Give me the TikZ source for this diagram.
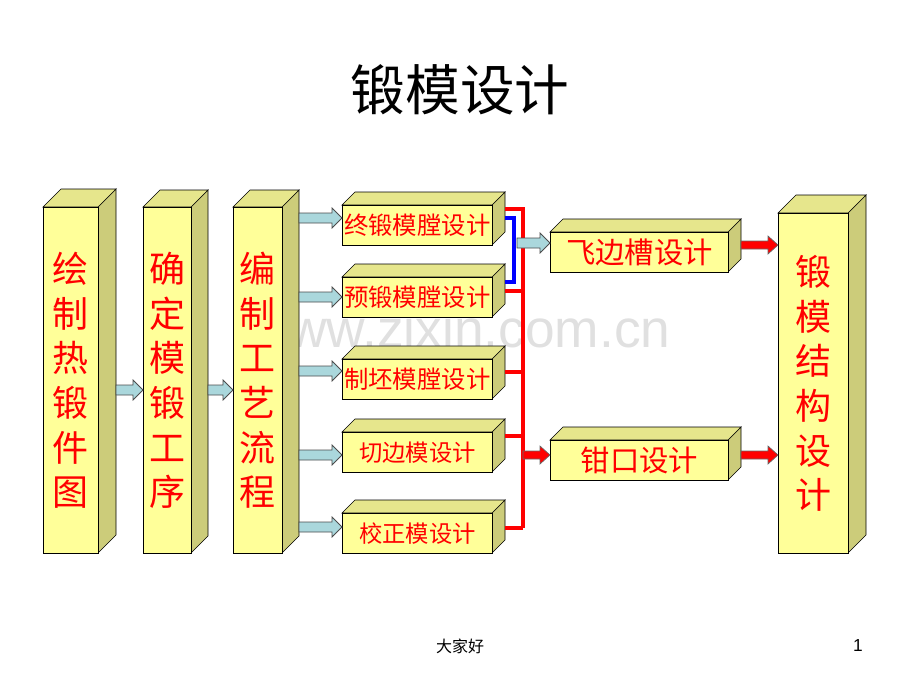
\documentclass[tikz,border=0pt]{standalone}
\usepackage{fontspec}
\setmainfont{Liberation Sans}
\newfontfamily\cjk{Noto Sans CJK SC}
\usetikzlibrary{arrows.meta,shapes.arrows}
\definecolor{fy}{RGB}{255,255,153}
\definecolor{sy}{RGB}{204,204,122}
\definecolor{ty}{RGB}{230,230,140}
\definecolor{ab}{RGB}{170,215,220}
\tikzset{
 txt/.style={text=red,font=\cjk},
 hol/.style={draw=black!70,fill=ab,line width=0.6pt},
 rl/.style={red,line width=2.4pt},
 ra/.style={draw=black!60,fill=red,line width=0.5pt},
}
% x1 y1 x2 y2 depth name
\newcommand\cube[6]{%
 \fill[sy,draw=black,line width=0.5pt] (#3,#2)--(#3+#5,#2-#5)--(#3+#5,#4-#5)--(#3,#4)--cycle;
 \fill[ty,draw=black,line width=0.5pt] (#1,#2)--(#1+#5,#2-#5)--(#3+#5,#2-#5)--(#3,#2)--cycle;
 \node[fill=fy,draw=black,line width=0.5pt,minimum width={(#3-#1)*0.75pt},minimum height={(#4-#2)*0.75pt},inner sep=0pt,anchor=north west] (#6) at (#1,#2) {};
}
% hollow arrow x1 x2 y
\newcommand\harrow[3]{\draw[hol] (#1,#3-5)--(#2-10,#3-5)--(#2-10,#3-10)--(#2,#3)--(#2-10,#3+10)--(#2-10,#3+5)--(#1,#3+5)--cycle;}
\newcommand\rarrow[3]{\draw[ra] (#1,#3-4)--(#2-10,#3-4)--(#2-10,#3-9)--(#2,#3)--(#2-10,#3+9)--(#2-10,#3+4)--(#1,#3+4)--cycle;}
\begin{document}
\begin{tikzpicture}[x=0.75pt,y=-0.75pt]
\useasboundingbox (0,0) rectangle (920,690);
\node at (460,90) {\cjk\fontsize{41}{44}\selectfont 锻模设计};
\node[text=black!12] at (460,328) {\fontsize{40}{42}\selectfont www.zixin.com.cn};
% tall boxes
\cube{43}{207}{98}{553}{18}{b1}
\cube{143}{207}{191}{553}{17}{b2}
\cube{233}{207}{282}{553}{17}{b3}
\cube{778}{213}{848}{553}{18}{b9}
\foreach \n/\t in {b1/{绘\\制\\热\\锻\\件\\图},b2/{确\\定\\模\\锻\\工\\序},b3/{编\\制\\工\\艺\\流\\程},b9/{锻\\模\\结\\构\\设\\计}}
 \node[txt,align=center,font=\cjk\fontsize{27}{33.5}\selectfont] at (\n) {\t};
% middle boxes
\cube{342}{205}{492}{245}{13}{m1}
\cube{342}{277}{492}{317}{13}{m2}
\cube{342}{359}{492}{399}{13}{m3}
\cube{342}{432}{492}{472}{13}{m4}
\cube{342}{513}{492}{553}{13}{m5}
\cube{550}{232}{728}{272}{13}{f1}
\cube{550}{440}{728}{480}{13}{f2}
\foreach \n/\t in {m1/终锻模膛设计,m2/预锻模膛设计,m3/制坯模膛设计}
 \node[txt,font=\cjk\fontsize{18.3}{20}\selectfont] at (\n) {\t};
\foreach \n/\t in {m4/切边模设计,m5/校正模设计}
 \node[txt,font=\cjk\fontsize{17.5}{20}\selectfont] at (\n) {\t};
\node[txt,font=\cjk\fontsize{22}{24}\selectfont] at (f1) {飞边槽设计};
\node[txt,font=\cjk\fontsize{22}{24}\selectfont] at (f2) {钳口设计};
% arrows
\harrow{116}{143}{390}
\harrow{208}{233}{390}
\harrow{299}{342}{218}
\harrow{299}{342}{297}
\harrow{299}{342}{371}
\harrow{299}{342}{455}
\harrow{299}{342}{527}
% connectors
\draw[blue,line width=2.4pt] (505,218)--(514,218)--(514,282)--(505,282);
\draw[rl] (505,209)--(523,209)--(523,528);
\draw[rl] (505,291)--(523,291);
\draw[rl] (505,372)--(523,372);
\draw[rl] (505,436)--(523,436);
\draw[rl] (505,528)--(523,528);
\harrow{517}{550}{243}
\rarrow{523}{550}{455}
\rarrow{741}{778}{245}
\rarrow{741}{778}{455}
\node at (460,646) {\cjk\fontsize{12}{14}\selectfont 大家好};
\node at (858,646) {\fontsize{13}{14}\selectfont 1};
\end{tikzpicture}
\end{document}
